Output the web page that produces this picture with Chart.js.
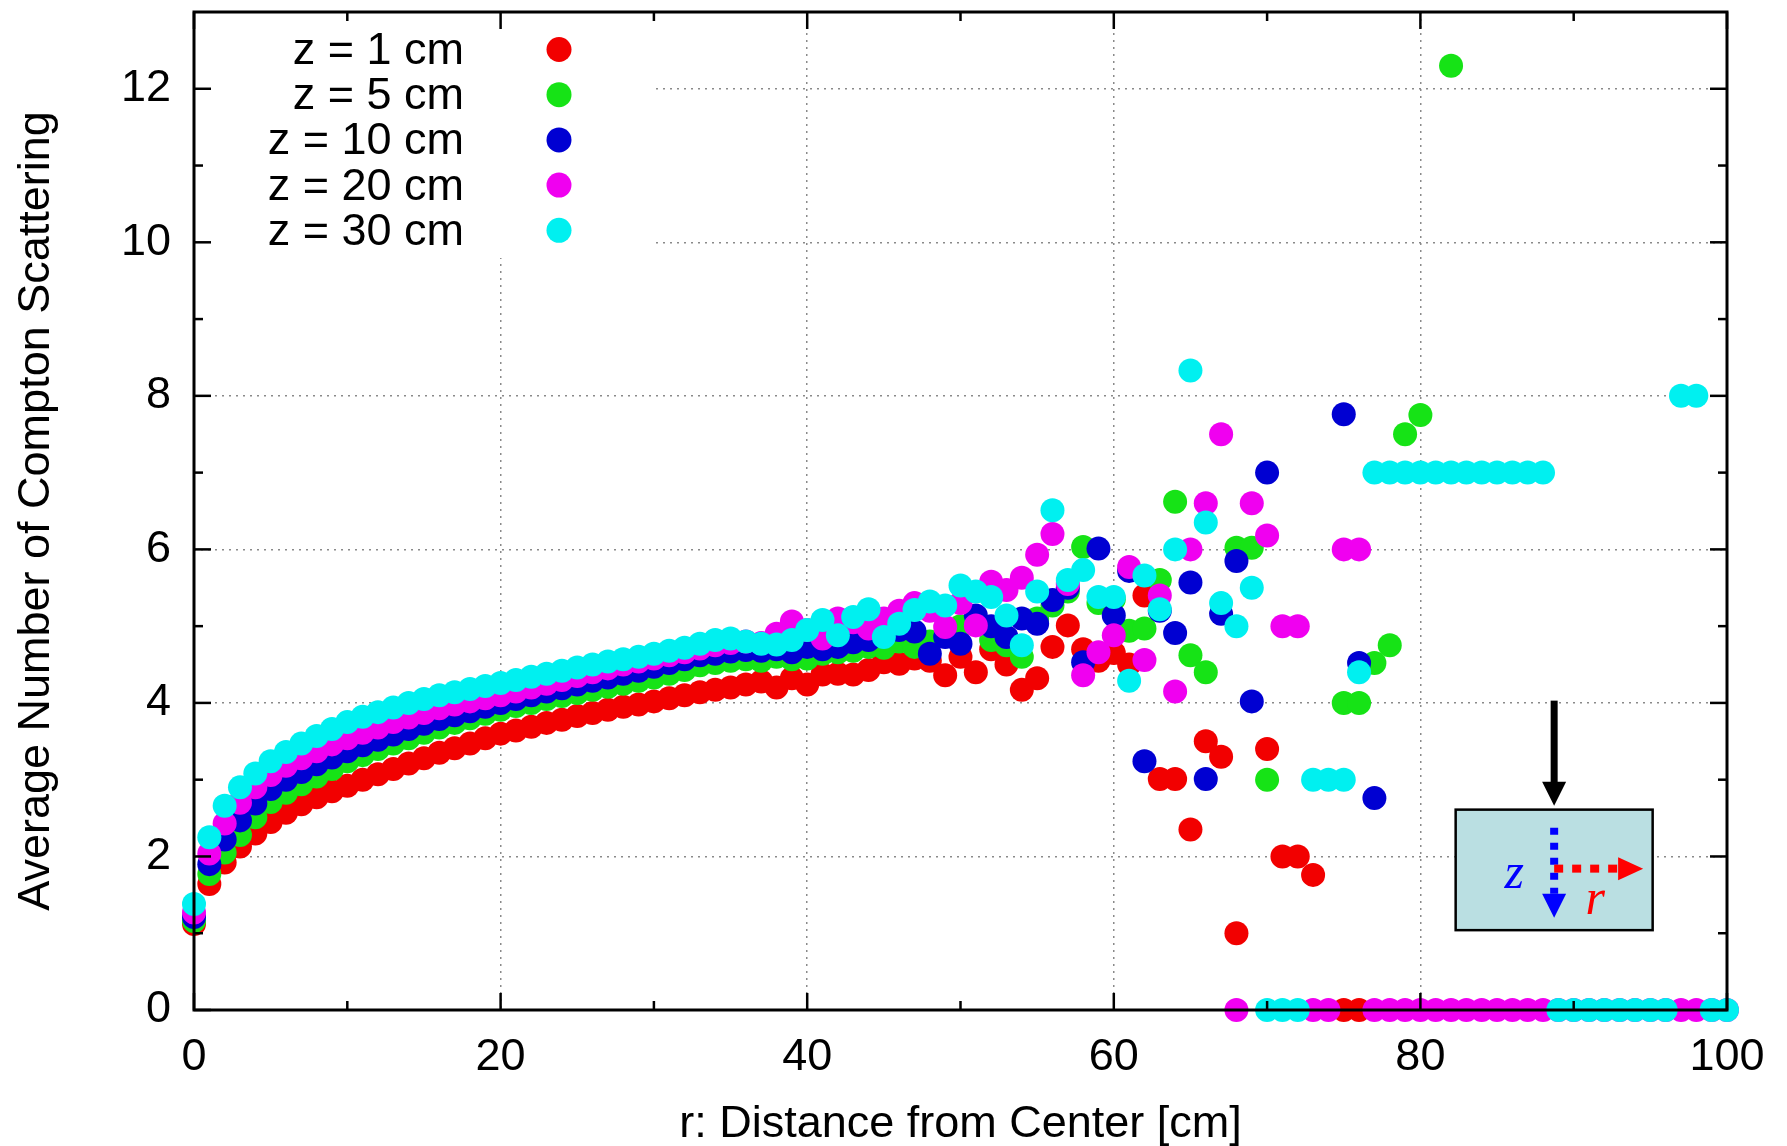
<!DOCTYPE html>
<html>
<head>
<meta charset="utf-8">
<title>Average Number of Compton Scattering</title>
<script src="https://cdn.jsdelivr.net/npm/chart.js@4.4.1/dist/chart.umd.min.js"></script>
<style>
  html, body { margin: 0; padding: 0; background: #fff; }
  #wrap { width: 1787px; height: 1146px; }
</style>
</head>
<body>
<div id="wrap"><canvas id="chart" width="1787" height="1146"></canvas></div>
<script>
  // r positions (cm)
  const radius = [
    0, 1, 2, 3, 4, 5, 6, 7, 8, 9, 10, 11, 12, 13, 14, 15, 16, 17, 18, 19,
    20, 21, 22, 23, 24, 25, 26, 27, 28, 29, 30, 31, 32, 33, 34, 35, 36, 37, 38, 39,
    40, 41, 42, 43, 44, 45, 46, 47, 48, 49, 50, 51, 52, 53, 54, 55, 56, 57, 58, 59,
    60, 61, 62, 63, 64, 65, 66, 67, 68, 69, 70, 71, 72, 73, 74, 75, 76, 77, 78, 79,
    80, 81, 82, 83, 84, 85, 86, 87, 88, 89, 90, 91, 92, 93, 94, 95, 96, 97, 98, 99, 100
  ];

  // valeurs (null = point absent)
  const z1 = [
    1.12, 1.64, 1.92, 2.13, 2.30, 2.45, 2.57, 2.68, 2.77, 2.85,
    2.92, 3.00, 3.07, 3.14, 3.21, 3.28, 3.35, 3.41, 3.47, 3.54,
    3.60, 3.64, 3.69, 3.74, 3.78, 3.83, 3.87, 3.91, 3.95, 3.98,
    4.02, 4.06, 4.10, 4.14, 4.17, 4.20, 4.24, 4.28, 4.20, 4.32,
    4.24, 4.37, 4.38, 4.37, 4.43, 4.53, 4.51, 4.58, 4.55, 4.36,
    4.60, 4.40, 4.70, 4.50, 4.17, 4.32, 4.73, 5.01, 4.70, 4.55,
    4.65, 4.50, 5.40, 3.01, 3.01, 2.35, 3.50, 3.30, 1.00, null,
    3.40, 2.00, 2.00, 1.76, null, 0, 0, null, null, null,
    null, null, null, null, null, null, null, null, null, null,
    null, null, null, null, null, null, null, null, null, null, null
  ];
  const z5 = [
    1.16, 1.77, 2.05, 2.28, 2.51, 2.71, 2.83, 2.94, 3.04, 3.14,
    3.24, 3.32, 3.40, 3.47, 3.54, 3.61, 3.68, 3.74, 3.80, 3.86,
    3.91, 3.96, 4.00, 4.05, 4.09, 4.13, 4.17, 4.21, 4.25, 4.29,
    4.33, 4.38, 4.43, 4.49, 4.52, 4.55, 4.57, 4.55, 4.60, 4.57,
    4.58, 4.64, 4.66, 4.68, 4.73, 4.72, 4.80, 4.73, 4.80, 4.90,
    5.00, 5.08, 4.82, 4.75, 4.60, 5.10, 5.27, 5.45, 6.03, 5.30,
    5.35, 4.94, 4.97, 5.60, 6.62, 4.62, 4.40, null, 6.02, 6.02,
    3.00, null, null, null, null, 4.00, 4.00, 4.52, 4.75, 7.50,
    7.75, null, 12.30, null, null, null, null, null, null, null,
    null, null, null, null, null, null, null, null, null, null, null
  ];
  const z10 = [
    1.21, 1.90, 2.22, 2.47, 2.69, 2.88, 3.00, 3.10, 3.20, 3.29,
    3.37, 3.45, 3.52, 3.59, 3.66, 3.73, 3.79, 3.84, 3.89, 3.95,
    4.00, 4.05, 4.10, 4.15, 4.19, 4.24, 4.29, 4.33, 4.38, 4.42,
    4.47, 4.52, 4.57, 4.62, 4.64, 4.67, 4.69, 4.68, 4.70, 4.66,
    4.73, 4.70, 4.73, 4.79, 4.82, 4.90, 4.95, 4.93, 4.64, 4.86,
    4.77, 5.14, 5.00, 4.86, 5.10, 5.03, 5.34, 5.50, 4.53, 6.01,
    5.14, 5.72, 3.24, 5.20, 4.91, 5.57, 3.01, 5.16, 5.85, 4.02,
    7.00, null, null, null, null, 7.76, 4.52, 2.76, null, null,
    null, null, null, null, null, null, null, null, null, null,
    null, null, null, null, null, null, null, null, null, null, null
  ];
  const z20 = [
    1.27, 2.04, 2.43, 2.70, 2.90, 3.06, 3.18, 3.28, 3.37, 3.46,
    3.54, 3.61, 3.68, 3.75, 3.81, 3.87, 3.93, 3.98, 4.02, 4.06,
    4.10, 4.15, 4.20, 4.25, 4.30, 4.35, 4.40, 4.45, 4.50, 4.54,
    4.58, 4.62, 4.66, 4.71, 4.75, 4.78, 4.80, 4.78, 4.90, 5.06,
    4.95, 4.84, 5.10, 5.05, 4.97, 5.10, 5.20, 5.30, 5.20, 4.99,
    5.30, 5.01, 5.58, 5.47, 5.63, 5.93, 6.20, 5.55, 4.36, 4.66,
    4.88, 5.77, 4.56, 5.40, 4.15, 6.00, 6.60, 7.50, 0, 6.60,
    6.18, 5.00, 5.00, 0, 0, 6.00, 6.00, 0, 0, 0,
    0, 0, 0, 0, 0, 0, 0, 0, 0, 0,
    0, 0, 0, 0, 0, 0, 0, 0, 0, 0, 0
  ];
  const z30 = [
    1.38, 2.25, 2.66, 2.90, 3.08, 3.24, 3.36, 3.47, 3.57, 3.66,
    3.75, 3.82, 3.88, 3.94, 4.00, 4.05, 4.10, 4.14, 4.18, 4.22,
    4.26, 4.30, 4.34, 4.38, 4.42, 4.46, 4.50, 4.54, 4.57, 4.60,
    4.64, 4.68, 4.72, 4.77, 4.82, 4.84, 4.80, 4.77, 4.76, 4.82,
    4.95, 5.08, 4.88, 5.12, 5.22, 4.86, 5.03, 5.21, 5.32, 5.27,
    5.53, 5.45, 5.38, 5.14, 4.75, 5.45, 6.51, 5.60, 5.73, 5.38,
    5.38, 4.29, 5.66, 5.22, 6.00, 8.33, 6.35, 5.30, 5.00, 5.50,
    0, 0, 0, 3.00, 3.00, 3.00, 4.40, 7.00, 7.00, 7.00,
    7.00, 7.00, 7.00, 7.00, 7.00, 7.00, 7.00, 7.00, 7.00, 0,
    0, 0, 0, 0, 0, 0, 0, 8.00, 8.00, 0, 0
  ];

  const seriesLabels = ['z = 1 cm', 'z = 5 cm', 'z = 10 cm', 'z = 20 cm', 'z = 30 cm'];
  const seriesValues = [z1, z5, z10, z20, z30];
  const seriesColors = ['#f20000', '#16e316', '#0000d2', '#f000f0', '#00f0f0'];

  const xTickValues = [0, 20, 40, 60, 80, 100];
  const xMinorTicks = [10, 30, 50, 70, 90];
  const yTickValues = [0, 2, 4, 6, 8, 10, 12];
  const yMinorTicks = [1, 3, 5, 7, 9, 11];

  const FONT = '"Liberation Sans", Arial, Helvetica, sans-serif';

  function toPoints(values) {
    const pts = [];
    values.forEach((v, i) => {
      if (v !== null) pts.push({ x: radius[i], y: v });
    });
    return pts;
  }

  // cadre, graduations vers l'interieur, légende et schéma
  const decorPlugin = {
    id: 'decor',
    beforeDatasetsDraw(chart) {
      const { ctx, chartArea: a } = chart;
      ctx.save();
      ctx.fillStyle = '#ffffff';
      ctx.fillRect(a.left, a.top, 458, 246);
      ctx.font = '45px ' + FONT;
      ctx.textAlign = 'right';
      ctx.textBaseline = 'middle';
      seriesLabels.forEach((label, i) => {
        const y = a.top + 37.5 + i * 45.2;
        ctx.fillStyle = '#000';
        ctx.fillText(label, a.left + 270, y + 2);
        ctx.beginPath();
        ctx.arc(a.left + 365, y, 12.5, 0, Math.PI * 2);
        ctx.fillStyle = seriesColors[i];
        ctx.fill();
      });
      ctx.restore();
    },
    afterDatasetsDraw(chart) {
      const { ctx, chartArea: a } = chart;
      const xs = chart.scales.x, ys = chart.scales.y;
      const px = v => xs.getPixelForValue(v);
      const py = v => ys.getPixelForValue(v);

      ctx.save();
      // petit schéma
      const bx1 = px(82.3), bx2 = px(95.15), by1 = py(2.61), by2 = py(1.04);
      const ax = (bx1 + bx2) / 2;
      ctx.fillStyle = '#badfe2';
      ctx.fillRect(bx1, by1, bx2 - bx1, by2 - by1);
      ctx.lineWidth = 2.5;
      ctx.strokeStyle = '#000';
      ctx.strokeRect(bx1, by1, bx2 - bx1, by2 - by1);

      // fleche noire
      ctx.lineWidth = 7;
      ctx.beginPath();
      ctx.moveTo(ax, by1 - 109);
      ctx.lineTo(ax, by1 - 26);
      ctx.stroke();
      ctx.fillStyle = '#000';
      ctx.beginPath();
      ctx.moveTo(ax - 12, by1 - 28);
      ctx.lineTo(ax + 12, by1 - 28);
      ctx.lineTo(ax, by1 - 4);
      ctx.closePath();
      ctx.fill();

      // z (bleu, pointillé)
      ctx.strokeStyle = '#0000ff';
      ctx.fillStyle = '#0000ff';
      ctx.lineWidth = 8;
      ctx.setLineDash([7, 8]);
      ctx.beginPath();
      ctx.moveTo(ax, by1 + 18);
      ctx.lineTo(ax, by1 + 84);
      ctx.stroke();
      ctx.setLineDash([]);
      ctx.beginPath();
      ctx.moveTo(ax - 12, by1 + 84);
      ctx.lineTo(ax + 12, by1 + 84);
      ctx.lineTo(ax, by1 + 108);
      ctx.closePath();
      ctx.fill();

      // r (rouge, pointillé)
      const ry = by1 + 59;
      ctx.strokeStyle = '#ff0000';
      ctx.fillStyle = '#ff0000';
      ctx.setLineDash([9, 9]);
      ctx.beginPath();
      ctx.moveTo(ax, ry);
      ctx.lineTo(ax + 65, ry);
      ctx.stroke();
      ctx.setLineDash([]);
      ctx.beginPath();
      ctx.moveTo(ax + 64, ry - 11.5);
      ctx.lineTo(ax + 64, ry + 11.5);
      ctx.lineTo(ax + 89, ry);
      ctx.closePath();
      ctx.fill();

      ctx.font = 'italic 50px "Liberation Serif", "Times New Roman", serif';
      ctx.textAlign = 'center';
      ctx.textBaseline = 'alphabetic';
      ctx.fillStyle = '#0000ff';
      ctx.fillText('z', ax - 40, by1 + 78);
      ctx.fillStyle = '#ff0000';
      ctx.fillText('r', ax + 41, by1 + 104);

      // cadre
      ctx.strokeStyle = '#000';
      ctx.lineWidth = 3;
      ctx.strokeRect(a.left, a.top, a.right - a.left, a.bottom - a.top);

      // graduations
      const tick = (x1, y1, x2, y2) => {
        ctx.beginPath();
        ctx.moveTo(x1, y1);
        ctx.lineTo(x2, y2);
        ctx.stroke();
      };
      ctx.lineWidth = 2.5;
      xTickValues.forEach(v => { const x = px(v); tick(x, a.bottom, x, a.bottom - 17); tick(x, a.top, x, a.top + 17); });
      xMinorTicks.forEach(v => { const x = px(v); tick(x, a.bottom, x, a.bottom - 9); tick(x, a.top, x, a.top + 9); });
      yTickValues.forEach(v => { const y = py(v); tick(a.left, y, a.left + 17, y); tick(a.right, y, a.right - 17, y); });
      yMinorTicks.forEach(v => { const y = py(v); tick(a.left, y, a.left + 9, y); tick(a.right, y, a.right - 9, y); });
      ctx.restore();
    }
  };

  const datasets = seriesLabels.map((label, i) => ({
    label: label,
    data: toPoints(seriesValues[i]),
    backgroundColor: seriesColors[i],
    borderWidth: 0,
    pointRadius: 12,
    pointHoverRadius: 12,
    showLine: false,
    clip: false,
    order: seriesLabels.length - i  // z = 30 cm dessiné en dernier
  }));

  new Chart(document.getElementById('chart'), {
    type: 'scatter',
    data: { datasets: datasets },
    options: {
      responsive: false,
      animation: false,
      devicePixelRatio: 1,
      layout: { padding: { top: 10, right: 60, left: 0, bottom: 0 } },
      plugins: {
        legend: { display: false },
        tooltip: { enabled: false }
      },
      scales: {
        x: {
          type: 'linear',
          min: 0,
          max: 100,
          afterBuildTicks: s => { s.ticks = xTickValues.map(v => ({ value: v })); },
          afterFit: s => { s.height = 136; s.paddingLeft = 0; s.paddingRight = 0; },
          ticks: { color: '#000', padding: 21, maxRotation: 0, font: { family: FONT, size: 45 } },
          grid: { color: '#8a8a8a', lineWidth: 1.5, drawTicks: false },
          border: { display: false, dash: [2, 5] },
          title: {
            display: true,
            text: 'r: Distance from Center [cm]',
            color: '#000',
            font: { family: FONT, size: 45, lineHeight: 0.9 },
            padding: { top: 0, bottom: 1 }
          }
        },
        y: {
          type: 'linear',
          min: 0,
          max: 13,
          afterBuildTicks: s => { s.ticks = yTickValues.map(v => ({ value: v })); },
          afterFit: s => { s.width = 194; s.paddingTop = 0; s.paddingBottom = 0; },
          ticks: { color: '#000', padding: 23, font: { family: FONT, size: 45 } },
          grid: { color: '#8a8a8a', lineWidth: 1.5, drawTicks: false },
          border: { display: false, dash: [2, 5] },
          title: {
            display: true,
            text: 'Average Number of Compton Scattering',
            color: '#000',
            font: { family: FONT, size: 45 },
            padding: { top: 10, bottom: 0 }
          }
        }
      }
    },
    plugins: [decorPlugin]
  });
</script>
</body>
</html>
